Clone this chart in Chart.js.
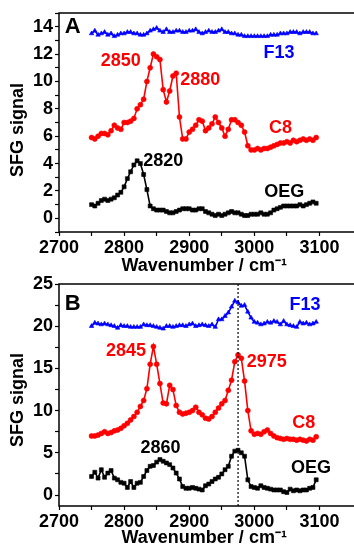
<!DOCTYPE html>
<html>
<head>
<meta charset="utf-8">
<script src="https://cdn.jsdelivr.net/npm/chart.js@4.4.0/dist/chart.umd.min.js"></script>
<style>
    html, body { margin: 0; padding: 0; background: #fff; overflow: hidden; }
    #wrap { position: relative; width: 354px; height: 545px; }
    canvas { position: absolute; left: 0; }
    #chartA { top: 0; }
    #chartB { top: 270px; }
</style>
</head>
<body>
<div id="wrap">
    <canvas id="chartA" width="354" height="280"></canvas>
    <canvas id="chartB" width="354" height="280"></canvas>
</div>
<script>
/* ================= DATA ================= */
const wavenumbers = [
    2750, 2755, 2760, 2765, 2770, 2775, 2780, 2785, 2790, 2795,
    2800, 2805, 2810, 2815, 2820, 2825, 2830, 2835, 2840, 2845,
    2850, 2855, 2860, 2865, 2870, 2875, 2880, 2885, 2890, 2895,
    2900, 2905, 2910, 2915, 2920, 2925, 2930, 2935, 2940, 2945,
    2950, 2955, 2960, 2965, 2970, 2975, 2980, 2985, 2990, 2995,
    3000, 3005, 3010, 3015, 3020, 3025, 3030, 3035, 3040, 3045,
    3050, 3055, 3060, 3065, 3070, 3075, 3080, 3085, 3090, 3095
];

// panel A
const f13A = [
    13.5, 13.7, 13.4, 13.5, 13.6, 13.4, 13.5, 13.3, 13.4, 13.5,
    13.5, 13.6, 13.6, 13.5, 13.5, 13.4, 13.4, 13.5, 13.7, 13.8,
    13.9, 13.7, 13.6, 13.8, 13.6, 13.6, 13.7, 13.7, 13.6, 13.6,
    13.7, 13.7, 13.8, 13.6, 13.5, 13.6, 13.7, 13.6, 13.6, 13.7,
    13.8, 13.6, 13.6, 13.5, 13.5, 13.4, 13.4, 13.3, 13.3, 13.3,
    13.3, 13.3, 13.3, 13.3, 13.3, 13.4, 13.4, 13.4, 13.5, 13.5,
    13.5, 13.6, 13.6, 13.6, 13.5, 13.6, 13.6, 13.6, 13.5, 13.5
];
const c8A = [
    5.9, 5.8, 6.0, 6.2, 6.2, 6.1, 6.4, 6.8, 6.6, 6.5,
    7.0, 7.0, 7.1, 7.3, 8.0, 8.3, 8.7, 10.0, 11.0, 12.0,
    11.8, 11.6, 9.4, 8.5, 9.3, 10.4, 10.6, 7.4, 5.8, 5.8,
    6.3, 6.5, 6.8, 7.2, 7.1, 6.4, 6.6, 6.9, 7.4, 7.0,
    6.6, 6.0, 6.5, 7.2, 7.2, 7.0, 6.8, 6.3, 5.3, 5.0,
    5.0, 5.1, 5.0, 5.1, 5.1, 5.2, 5.3, 5.4, 5.5, 5.5,
    5.6, 5.5, 5.7, 5.6, 5.7, 5.8, 5.7, 5.8, 5.7, 5.9
];
const oegA = [
    1.0, 0.9, 1.1, 1.3, 1.4, 1.3, 1.4, 1.5, 1.7, 1.9,
    2.3, 2.9, 3.4, 3.9, 4.2, 4.0, 3.2, 2.1, 0.9, 0.7,
    0.6, 0.6, 0.6, 0.5, 0.4, 0.4, 0.5, 0.6, 0.7, 0.7,
    0.7, 0.6, 0.6, 0.7, 0.7, 0.5, 0.4, 0.3, 0.2, 0.3,
    0.2, 0.3, 0.4, 0.5, 0.4, 0.4, 0.3, 0.2, 0.2, 0.3,
    0.3, 0.3, 0.4, 0.3, 0.3, 0.4, 0.6, 0.7, 0.8, 0.9,
    0.9, 0.9, 0.9, 0.9, 1.0, 0.9, 1.0, 1.1, 1.2, 1.1
];

// panel B
const f13B = [
    20.0, 20.4, 20.3, 20.2, 20.3, 20.2, 20.1, 20.0, 19.8, 20.1,
    20.0, 20.0, 19.9, 19.9, 19.9, 19.9, 20.2, 20.1, 20.1, 20.0,
    19.9, 19.8, 19.7, 20.0, 20.0, 19.9, 20.0, 20.1, 20.1, 20.0,
    20.2, 20.3, 20.0, 20.1, 20.2, 20.1, 20.0, 20.2, 19.9, 20.8,
    20.8, 21.2, 21.6, 22.3, 23.0, 22.8, 22.4, 22.5, 21.7, 21.0,
    20.5, 20.4, 20.2, 20.3, 20.5, 20.4, 20.6, 20.5, 20.2, 20.6,
    20.2, 20.1, 20.0, 19.9, 20.5, 20.3, 20.4, 20.2, 20.3, 20.5
];
const c8B = [
    7.0, 7.0, 7.1, 7.3, 7.5, 7.3, 7.4, 7.6, 7.7, 7.9,
    8.2, 8.5, 8.9, 9.3, 9.8, 10.5, 11.2, 12.6, 15.5, 17.6,
    15.5, 13.2, 10.9, 10.8, 13.0, 12.5, 10.6, 9.8, 9.6, 9.7,
    9.8, 10.0, 10.4, 9.8, 9.5, 9.1, 9.0, 9.3, 9.8, 10.3,
    10.8, 11.2, 12.4, 13.6, 15.8, 16.6, 16.2, 13.5, 10.0, 7.6,
    7.2, 7.3, 7.2, 7.5, 7.7, 7.3, 7.0, 6.8, 6.7, 6.6,
    6.7, 6.6, 6.6, 6.5, 6.6, 6.5, 6.4, 6.6, 6.5, 6.9
];
const oegB = [
    2.2, 2.7, 2.0, 3.0, 2.1, 2.6, 2.9, 2.0, 1.8, 1.5,
    1.4, 0.9, 1.6, 0.9, 1.4, 1.5, 2.2, 2.9, 3.4, 3.5,
    3.9, 4.2, 4.0, 3.8, 3.6, 3.2, 2.6, 1.9, 1.0, 0.8,
    0.8, 0.9, 0.8, 0.7, 0.6, 1.1, 1.3, 1.6, 1.9, 2.1,
    2.5, 3.0, 3.4, 4.6, 5.2, 5.3, 5.0, 4.6, 1.8, 1.0,
    0.9, 0.8, 1.1, 0.9, 0.8, 0.7, 0.6, 0.6, 0.6, 0.4,
    0.3, 0.7, 0.5, 0.6, 0.5, 0.6, 0.6, 0.8, 0.9, 1.8
];

const markerLineB = 2975;

/* ================= STYLE ================= */
const RED = "#ff0000";
const BLUE = "#0000ff";
const BLACK = "#000000";

Chart.defaults.font.family = "'Liberation Sans', Arial, sans-serif";
Chart.defaults.font.weight = "bold";
Chart.defaults.color = "#000";

// text labels: [text, wavenumber, signal, colour, size]
const notesA = [
    ["A", 2721, 14.0, BLACK, 22],
    ["2850", 2795, 11.5, RED, 18],
    ["2880", 2917, 10.1, RED, 18],
    ["F13", 3038, 12.1, BLUE, 18],
    ["C8", 3040, 6.6, RED, 18],
    ["2820", 2860, 4.2, BLACK, 18],
    ["OEG", 3046, 1.9, BLACK, 18]
];
const notesB = [
    ["B", 2721, 22.6, BLACK, 22],
    ["F13", 3078, 22.5, BLUE, 18],
    ["2845", 2803, 17.0, RED, 18],
    ["2975", 3019, 15.7, RED, 18],
    ["C8", 3076, 8.5, RED, 18],
    ["2860", 2856, 5.6, BLACK, 18],
    ["OEG", 3087, 3.2, BLACK, 18]
];

/* ================= PLUGIN ================= */
const panelPlugin = {
    id: "panel",
    afterDraw(chart, args, opts) {
        const ctx = chart.ctx;
        const a = chart.chartArea;
        const xs = chart.scales.x, ys = chart.scales.y;
        ctx.save();

        // dotted marker
        if (opts.vline) {
            const px = xs.getPixelForValue(opts.vline);
            ctx.strokeStyle = "#000";
            ctx.lineWidth = 1.2;
            ctx.setLineDash([2, 2]);
            ctx.beginPath();
            ctx.moveTo(px, a.top);
            ctx.lineTo(px, a.bottom);
            ctx.stroke();
            ctx.setLineDash([]);
        }

        // frame (right side is cropped off in the figure)
        ctx.strokeStyle = "#000";
        ctx.lineWidth = 1.5;
        ctx.beginPath();
        ctx.moveTo(chart.width, a.top);
        ctx.lineTo(a.left, a.top);
        ctx.lineTo(a.left, a.bottom);
        ctx.lineTo(chart.width, a.bottom);
        ctx.stroke();

        // notes
        ctx.textAlign = "center";
        ctx.textBaseline = "middle";
        (opts.notes || []).forEach(n => {
            ctx.font = "bold " + n[4] + "px 'Liberation Sans', Arial, sans-serif";
            ctx.fillStyle = n[3];
            ctx.fillText(n[0], xs.getPixelForValue(n[1]), ys.getPixelForValue(n[2]));
        });
        ctx.restore();
    }
};

/* ================= HELPERS ================= */
function pts(ys) {
    return wavenumbers.map((x, i) => ({ x: x, y: ys[i] }));
}

function series(ys, color, style, radius) {
    return {
        data: pts(ys),
        borderColor: color,
        backgroundColor: color,
        borderWidth: 1.6,
        pointStyle: style,
        pointRadius: radius,
        pointBorderWidth: 0.6,
        pointBackgroundColor: color,
        pointBorderColor: color,
        tension: 0
    };
}

function makeChart(id, datasets, cfg) {
    return new Chart(document.getElementById(id), {
        type: "line",
        data: { datasets: datasets },
        options: {
            responsive: false,
            animation: false,
            devicePixelRatio: 1,
            layout: { padding: { top: cfg.padTop, right: 1, left: 0, bottom: 0 } },
            plugins: {
                legend: { display: false },
                tooltip: { enabled: false },
                panel: { notes: cfg.notes, vline: cfg.vline }
            },
            scales: {
                x: {
                    type: "linear",
                    min: 2700,
                    max: 3146,
                    afterFit: s => { s.height = cfg.xHeight; },
                    border: { display: false },
                    grid: { drawOnChartArea: false, tickLength: 4, tickColor: "#000", tickWidth: 1.2 },
                    ticks: {
                        stepSize: 50,
                        includeBounds: false,
                        autoSkip: false,
                        maxRotation: 0,
                        padding: 1,
                        font: { size: 18, weight: "bold" },
                        color: "#000",
                        callback: v => (v % 100 === 0 ? String(v) : "")
                    },
                    title: {
                        display: true,
                        text: "Wavenumber / cm\u207B\u00B9",
                        font: { size: 18, weight: "bold" },
                        color: "#000",
                        padding: { top: 0, bottom: cfg.xTitlePad }
                    }
                },
                y: {
                    min: cfg.yMin,
                    max: cfg.yMax,
                    afterFit: s => { s.width = 59; },
                    border: { display: false },
                    grid: { drawOnChartArea: false, tickLength: 4, tickColor: "#000", tickWidth: 1.2 },
                    ticks: {
                        stepSize: cfg.yStep,
                        includeBounds: false,
                        autoSkip: false,
                        padding: 2,
                        font: { size: 18, weight: "bold" },
                        color: "#000",
                        callback: v => (v % cfg.yLabelStep === 0 ? String(v) : "")
                    },
                    title: {
                        display: true,
                        text: cfg.yTitle,
                        font: { size: 18, weight: "bold" },
                        color: "#000",
                        padding: { top: 7, bottom: 0 }
                    }
                }
            }
        },
        plugins: [panelPlugin]
    });
}

/* ================= CHARTS ================= */
makeChart("chartA", [
    series(f13A, BLUE, "triangle", 2.6),
    series(c8A, RED, "circle", 2.5),
    series(oegA, BLACK, "rect", 2.8)
], {
    padTop: 13, xHeight: 48, xTitlePad: 3,
    yMin: -1, yMax: 15, yStep: 1, yLabelStep: 2,
    yTitle: "SFG signal   ",
    notes: notesA
});

makeChart("chartB", [
    series(f13B, BLUE, "triangle", 2.6),
    series(c8B, RED, "circle", 2.5),
    series(oegB, BLACK, "rect", 2.8)
], {
    padTop: 14, xHeight: 44, xTitlePad: 1,
    yMin: -1.3, yMax: 25, yStep: 2.5, yLabelStep: 5,
    yTitle: "SFG signal  ",
    notes: notesB, vline: markerLineB
});
</script>
</body>
</html>
